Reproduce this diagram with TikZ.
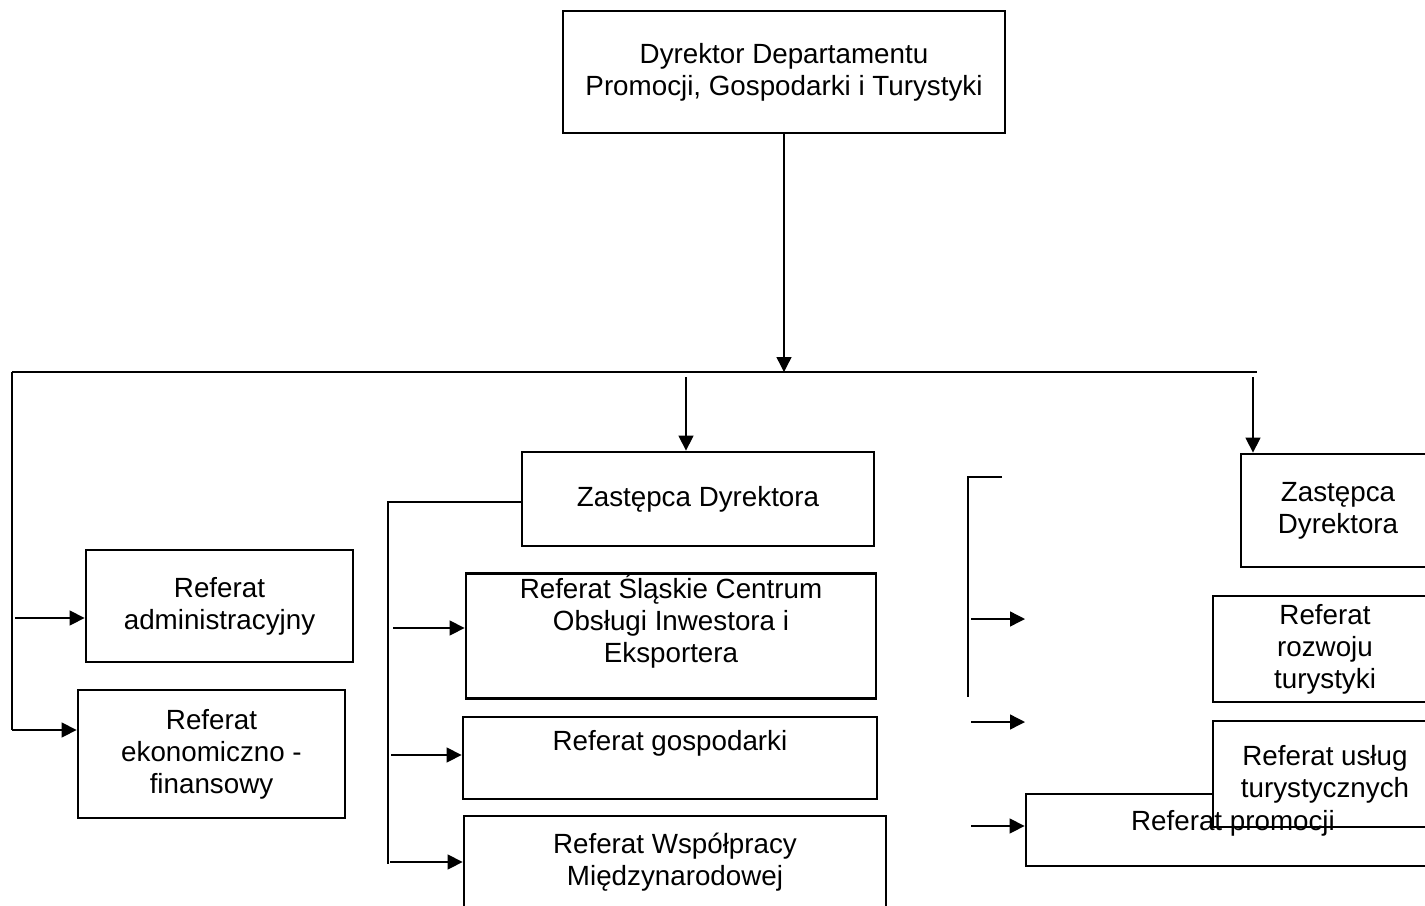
\documentclass[tikz,border=0pt]{standalone}
\usepackage{fontspec}
\setmainfont{Liberation Sans}
\usepackage{tikz}
\usetikzlibrary{arrows.meta}
\usetikzlibrary{calc}

\begin{document}
\begin{tikzpicture}[
    txt/.style={font=\fontsize{7.9}{9.1}\selectfont, align=center},
    box/.style={txt, draw, line width=0.8pt, rectangle, inner sep=0pt},
    raised/.style={text depth=10.2pt},
    conn/.style={line width=0.4pt},
    arr/.style={-{Triangle[length=1.5mm, width=1.5mm]}, line width=0.4pt}
]

    \useasboundingbox (0,0) rectangle (14.25,9.05);

    % director
    \node[box, minimum width=4.42cm, minimum height=1.22cm] (dyr) at (7.84,8.33) {Dyrektor Departamentu\\Promocji, Gospodarki i Turystyki};

    % main bus
    \coordinate (busL) at (0.12,5.33);
    \coordinate (busR) at (12.57,5.33);
    \draw[conn] (busL) -- (busR);
    \draw[arr] (dyr.south) -- (dyr.south |- busL);

    % left column
    \begin{scope}[every node/.style={box, minimum width=2.67cm}]
        \node[minimum height=1.12cm] (adm) at (2.195,2.99) {Referat\\administracyjny};
        \node[minimum height=1.28cm] (ekon) at (2.115,1.51) {Referat\\ekonomiczno -\\finansowy};
    \end{scope}

    \coordinate (l1) at (0.15,2.87);
    \coordinate (l2) at (0.12,1.75);
    \draw[conn] (busL) -- (l2);
    \draw[arr] (l1) -- (l1 -| adm.west);
    \draw[arr] (l2) -- (l2 -| ekon.west);

    % first deputy
    \node[box, minimum width=3.52cm, minimum height=0.94cm] (zd1) at (6.98,4.06) {Zastępca Dyrektora};
    \coordinate (m0) at (6.86,5.28);
    \draw[arr] (m0) -- (m0 |- zd1.north);

    \begin{scope}[every node/.style={box}]
        \node[raised, minimum width=4.10cm, minimum height=1.22cm] (sco) at (6.71,2.69) {Referat Śląskie Centrum\\Obsługi Inwestora i\\Eksportera};
        \node[raised, minimum width=4.14cm, minimum height=0.82cm] (gosp) at (6.70,1.47) {Referat gospodarki};
        \node[minimum width=4.22cm, minimum height=0.92cm] (wm) at (6.75,0.43) {Referat Współpracy\\Międzynarodowej};
    \end{scope}

    \coordinate (m1) at (3.88,4.03);
    \coordinate (m2) at (3.88,0.41);
    \coordinate (s1) at (3.93,2.77);
    \coordinate (s2) at (3.91,1.50);
    \coordinate (s3) at (3.90,0.43);
    \draw[conn] (zd1.west |- m1) -- (m1) -- (m2);
    \draw[arr] (s1) -- (s1 -| sco.west);
    \draw[arr] (s2) -- (s2 -| gosp.west);
    \draw[arr] (s3) -- (s3 -| wm.west);

    % second deputy
    \node[box, minimum width=1.94cm, minimum height=1.13cm] (zd2) at (13.38,3.945) {Zastępca\\Dyrektora};
    \coordinate (r0) at (12.53,5.28);
    \draw[arr] (r0) -- (r0 |- zd2.north);

    \node[box, minimum width=2.24cm, minimum height=1.06cm] (rozw) at (13.25,2.56) {Referat\\rozwoju\\turystyki};
    \node[box, minimum width=4.14cm, minimum height=0.72cm] (promo) at (12.33,0.75) {};
    \node[box, fill=white, minimum width=2.24cm, minimum height=1.06cm] (uslug) at (13.25,1.31) {Referat usług\\turystycznych};
    \node[txt] (promotxt) at (12.33,0.82) {Referat promocji};

    \coordinate (b0) at (10.02,4.28);
    \coordinate (b1) at (9.68,4.28);
    \coordinate (b2) at (9.68,2.08);
    \coordinate (t1) at (9.71,2.86);
    \coordinate (t2) at (9.71,1.83);
    \coordinate (t3) at (9.71,0.79);
    \coordinate (e1) at (10.25,2.86);
    \coordinate (e2) at (10.25,1.83);
    \draw[conn] (b0) -- (b1) -- (b2);
    \draw[arr] (t1) -- (e1);
    \draw[arr] (t2) -- (e2);
    \draw[arr] (t3) -- (t3 -| promo.west);

\end{tikzpicture}
\end{document}
